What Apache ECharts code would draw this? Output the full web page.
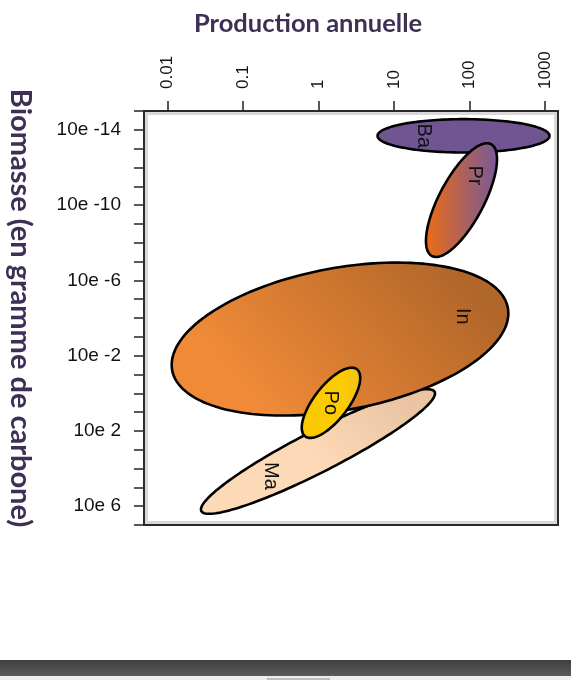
<!DOCTYPE html>
<html><head><meta charset="utf-8">
<script src="https://cdn.jsdelivr.net/npm/echarts@6/dist/echarts.min.js"></script>
<style>html,body{margin:0;padding:0;background:#fff;overflow:hidden}#c{width:571px;height:680px}</style>
</head><body><div id="c"></div>
<script>
// Groups, in drawing order
const groups = ['Ba', 'Pr', 'Ma', 'In', 'Po'];
// Ends of each ellipse's long axis: log10(production annuelle) and biomass exponent
const prodLow  = [0.783, 1.503, -1.549, -1.935, -0.176];
const bioLow   = [-13.68, -7.296, 6.26, -1.22, 2.288];
const prodHigh = [3.060, 2.286, 1.539, 2.508, 0.510];
const bioHigh  = [-13.68, -13.237, -0.075, -4.54, -1.275];
// width of each ellipse relative to its length
const widthRatio = [0.194, 0.352, 0.157, 0.416, 0.404];
// tick values and labels
const xTickValues = [-2, -1, 0, 1, 2, 3];
const xTickLabels = ['0.01', '0.1', '1', '10', '100', '1000'];
const yTickValues = [-15, -14, -13, -12, -11, -10, -9, -8, -7, -6, -5, -4, -3, -2, -1, 0, 1, 2, 3, 4, 5, 6, 7];
const yLabelValues = [-14, -10, -6, -2, 2, 6];
const yLabelTexts = ['10e -14', '10e -10', '10e -6', '10e -2', '10e 2', '10e 6'];

// styling (not data)
const labelAlong = { Ba: -0.47, Pr: 0.44, Ma: -0.41, In: 0.73, Po: 0 };
const fills = {
  Ba: '#705592',
  Pr: { type: 'linear', x: 0, y: 0.5, x2: 1, y2: 0.5, colorStops: [{ offset: 0, color: '#ec6c14' }, { offset: 1, color: '#76599a' }] },
  Ma: { type: 'linear', x: 0.8, y: 0, x2: 0.5, y2: 0.6, colorStops: [{ offset: 0, color: '#eac4a3' }, { offset: 1, color: '#fddab7' }] },
  In: { type: 'linear', x: 0.8, y: 0, x2: 0.3, y2: 1, colorStops: [{ offset: 0, color: '#b2672a' }, { offset: 1, color: '#f08a37' }] },
  Po: { type: 'linear', x: 0, y: 0.5, x2: 1, y2: 0.5, colorStops: [{ offset: 0, color: '#fac800' }, { offset: 0.7, color: '#fdcc00' }, { offset: 1, color: '#efbf20' }] }
};

const data = groups.map((g, i) => [prodLow[i], bioLow[i], prodHigh[i], bioHigh[i], widthRatio[i], g]);

const chart = echarts.init(document.getElementById('c'), null, { renderer: 'canvas' });
const titleColor = '#3e2f55';
chart.setOption({
  animation: false,
  backgroundColor: '#ffffff',
  grid: { left: 144, top: 111, width: 414, height: 414, show: false },
  xAxis: {
    type: 'value', position: 'top', min: -2.308, max: 3.172,
    splitLine: { show: false }, axisLine: { show: false, onZero: false },
    axisTick: { show: true, length: 10, inside: false, lineStyle: { color: '#222', width: 1.5 }, customValues: xTickValues },
    axisLabel: {
      customValues: xTickValues, rotate: -90, margin: 22, color: '#111', fontSize: 17,
      fontFamily: 'Liberation Sans, Arial, sans-serif',
      formatter: v => xTickLabels[xTickValues.indexOf(Math.round(v))]
    }
  },
  yAxis: {
    type: 'value', inverse: true, min: -15, max: 7,
    splitLine: { show: false }, axisLine: { show: false, onZero: false },
    axisTick: { show: true, length: 10, lineStyle: { color: '#222', width: 1.5 }, customValues: yTickValues },
    axisLabel: {
      customValues: yLabelValues, margin: 23, color: '#111', fontSize: 19,
      fontFamily: 'Liberation Sans, Arial, sans-serif',
      formatter: v => yLabelTexts[yLabelValues.indexOf(Math.round(v))]
    }
  },
  graphic: [
    { type: 'rect', x: 146.5, y: 113.5, shape: { x: 0, y: 0, width: 409, height: 409 }, style: { fill: null, stroke: '#d9d9d9', lineWidth: 3 }, silent: true, z: 1 },
    { type: 'rect', x: 144, y: 111, shape: { x: 0, y: 0, width: 414, height: 414 }, style: { fill: null, stroke: '#2a2a2a', lineWidth: 2 }, silent: true, z: 2 },
    { type: 'text', left: 194, top: 11, style: { text: 'Production annuelle', fill: titleColor, font: 'bold 25.5px Lato, "Open Sans", sans-serif' } },
    { type: 'text', x: 20, y: 308, rotation: -Math.PI / 2, style: { text: 'Biomasse (en gramme de carbone)', fill: titleColor, font: 'bold 29px Lato, "Open Sans", sans-serif', textAlign: 'center', textVerticalAlign: 'middle' } },
    { type: 'rect', x: 0, y: 660, shape: { x: 0, y: 0, width: 571, height: 16 }, style: { fill: { type: 'linear', x: 0, y: 0, x2: 0, y2: 1, colorStops: [{ offset: 0, color: '#3f3f3f' }, { offset: 1, color: '#575b5e' }] } }, silent: true },
    { type: 'rect', x: 0, y: 676, shape: { x: 0, y: 0, width: 571, height: 4 }, style: { fill: '#eeeeee' }, silent: true },
    { type: 'rect', x: 267, y: 678, shape: { x: 0, y: 0, width: 63, height: 2 }, style: { fill: '#bdbdbd' }, silent: true }
  ],
  series: [{
    type: 'custom',
    coordinateSystem: 'cartesian2d',
    encode: { x: [0, 2], y: [1, 3] },
    data: data,
    clip: false,
    z: 5,
    renderItem: function (params, api) {
      const g = groups[params.dataIndex];
      const p1 = api.coord([api.value(0), api.value(1)]);
      const p2 = api.coord([api.value(2), api.value(3)]);
      const cx = (p1[0] + p2[0]) / 2, cy = (p1[1] + p2[1]) / 2;
      const dx = (p2[0] - p1[0]) / 2, dy = (p2[1] - p1[1]) / 2;
      const A = Math.hypot(dx, dy), B = A * api.value(4);
      const ux = dx / A, uy = dy / A, vx = -uy, vy = ux;
      const pts = [];
      for (let k = 0; k < 160; k++) {
        const t = k / 160 * Math.PI * 2;
        pts.push([cx + ux * A * Math.cos(t) + vx * B * Math.sin(t), cy + uy * A * Math.cos(t) + vy * B * Math.sin(t)]);
      }
      const s = labelAlong[g];
      return {
        type: 'group',
        children: [
          { type: 'polygon', shape: { points: pts }, style: { fill: fills[g], stroke: '#000', lineWidth: 2.6 } },
          { type: 'text', x: cx + dx * s, y: cy + dy * s, rotation: -Math.PI / 2,
            style: { text: g, fill: '#111', font: '20px "Liberation Sans", Arial, sans-serif', textAlign: 'center', textVerticalAlign: 'middle' } }
        ]
      };
    }
  }]
});
</script>
</body></html>
